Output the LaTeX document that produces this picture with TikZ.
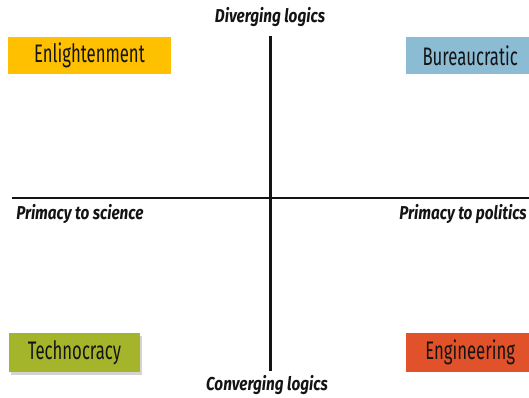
\documentclass[tikz,border=0pt]{standalone}
\usepackage{fontspec}
\usepackage{xcolor}
\usepackage{tikz}
\usetikzlibrary{positioning,shadows}
\newfontfamily\boxfont[FakeStretch=0.66]{Fira Sans}
\newfontfamily\axisfont[FakeStretch=0.82]{Fira Sans}
\definecolor{Gold}{HTML}{FFC000}
\definecolor{SkyBlue}{HTML}{8CBBD4}
\definecolor{Olive}{HTML}{A5B52B}
\definecolor{Orange}{HTML}{E2522A}
\definecolor{Ink}{HTML}{141414}
\tikzset{
  quad/.style={rectangle,inner sep=0pt,minimum height=27.75pt,text=Ink,
               font=\boxfont\fontsize{19}{22}\selectfont},
  axis/.style={line width=1.6pt,draw=Ink},
  pole/.style={inner sep=0pt,text=Ink,
               font=\axisfont\bfseries\itshape\fontsize{14}{16}\selectfont}
}
\begin{document}
\begin{tikzpicture}[x=0.75pt,y=-0.75pt]
  \useasboundingbox (0,0) rectangle (529,397);
  % the two axes
  \coordinate (top) at (270.5,36);
  \coordinate (bottom) at (270.5,371);
  \coordinate (left) at (12,198);
  \coordinate (right) at (529,198);
  \draw[axis] (top) -- (bottom);
  \draw[axis] (left) -- (right);

  % quadrants
  \node[quad,fill=Gold,minimum width=122.25pt] (enlight) at (89.5,55.5) {Enlightenment};
  \node[quad,fill=SkyBlue,minimum width=92.25pt] (bureau) at (467.5,55.5) {\hspace*{4pt}Bureaucratic};
  \node[quad,fill=Olive,minimum width=98.25pt,minimum height=29.25pt,
        drop shadow={shadow xshift=1.5pt,shadow yshift=-2pt,opacity=0.35}] (techno) at (74.5,352.5) {Technocracy};
  \node[quad,fill=Orange,minimum width=92.25pt,minimum height=29.25pt] (engin) at (467.5,352.5) {\hspace*{4pt}Engineering};

  % pole labels
  \node[pole] (diverge) at (270,17) {Diverging logics};
  \node[pole] (converge) at (267,385) {Converging logics};
  \node[pole,anchor=west] (science) at (16,214) {Primacy to science};
  \node[pole,anchor=east] (politics) at (527,214) {Primacy to politics};
\end{tikzpicture}
\end{document}
